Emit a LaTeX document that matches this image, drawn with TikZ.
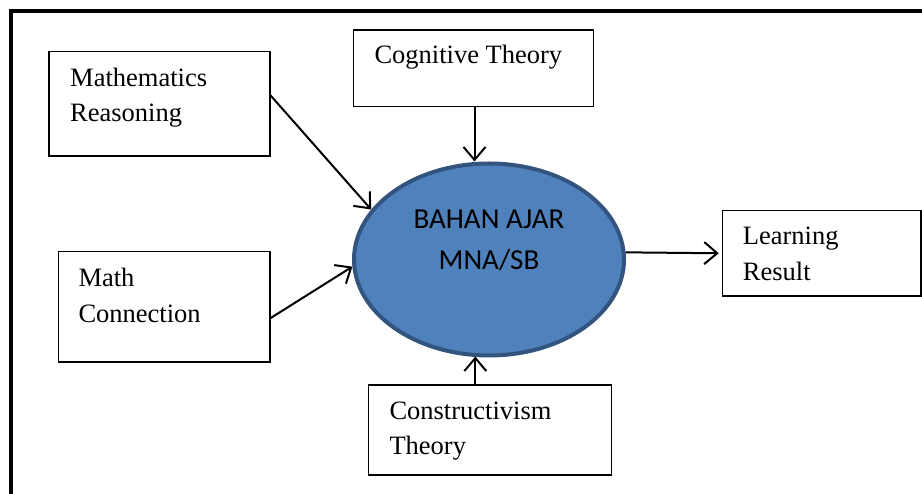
\documentclass[tikz,border=0pt]{standalone}
\usepackage{fontspec}
\setmainfont{Liberation Serif}
\newfontfamily\calib{Carlito}
\usetikzlibrary{shapes.geometric,arrows.meta,calc}
\definecolor{ellfill}{HTML}{4F81BD}
\definecolor{elldraw}{HTML}{33547E}
\tikzset{
  boxnode/.style={draw=black,line width=1.2pt,rectangle,inner sep=0pt,fill=white},
  txt/.style={inner sep=0pt,anchor=base west,font=\fontsize{26.5}{35}\selectfont},
  etxt/.style={inner sep=0pt,anchor=base,font=\calib\fontsize{29}{40}\selectfont},
  conn/.style={line width=2pt,-{Straight Barb[length=13pt,width=22pt,line width=2pt]}}
}
\begin{document}
\begin{tikzpicture}[x=1pt,y=-1pt]
\useasboundingbox (0,0) rectangle (922,494);
% outer frame (cut by the page edges)
\draw[line width=4pt] (10.5,540) -- (10.5,11) -- (960,11);
% boxes
\node[boxnode,minimum width=221pt,minimum height=104.3pt] (mr) at (159.5,103.9) {};
\node[boxnode,minimum width=211.7pt,minimum height=110.3pt] (mc) at (164.2,306.9) {};
\node[boxnode,minimum width=240pt,minimum height=76.7pt] (cog) at (473.3,68.3) {};
\node[boxnode,minimum width=243.4pt,minimum height=90pt] (con) at (490,430) {};
\node[boxnode,minimum width=198.7pt,minimum height=85.3pt] (lr) at (821.7,253.3) {};
% ellipse
\node[ellipse,draw=elldraw,fill=ellfill,line width=4pt,minimum width=270pt,minimum height=192pt,inner sep=0pt] (el) at (489,259.5) {};
% texts
\node[txt] (mr1) at (70,86.7) {Mathematics};
\node[txt] (mr2) at (70,121.7) {Reasoning};
\node[txt] (mc1) at (78.3,286.7) {Math};
\node[txt] (mc2) at (78.3,323) {Connection};
\node[txt] (cog1) at (374.3,63.3) {Cognitive Theory};
\node[txt] (con1) at (389.3,420) {Constructivism};
\node[txt] (con2) at (389.3,455) {Theory};
\node[txt] (lr1) at (742.7,245) {Learning};
\node[txt] (lr2) at (742.7,281) {Result};
\node[etxt] (el1) at (489,228.3) {BAHAN AJAR};
\node[etxt] (el2) at (489,269.3) {MNA/SB};
% connectors
\coordinate (mrs) at ($(mr.north east)!0.42!(mr.south east)$);
\coordinate (mcs) at ($(mc.north east)!0.60!(mc.south east)$);
\coordinate (cons) at ($(con.north west)!0.44!(con.north east)$);
\coordinate (cogs) at ($(cog.south west)!0.505!(cog.south east)$);
\draw[conn] (mrs) -- (el.157);
\draw[conn] (mcs) -- (el.183);
\draw[conn] (cogs) -- (cogs |- el.north);
\draw[conn] (cons) -- ($(cons |- el.south)+(0,-1)$);
\draw[conn,shorten >=3pt] (el.3) -- (lr.west);
\end{tikzpicture}
\end{document}
